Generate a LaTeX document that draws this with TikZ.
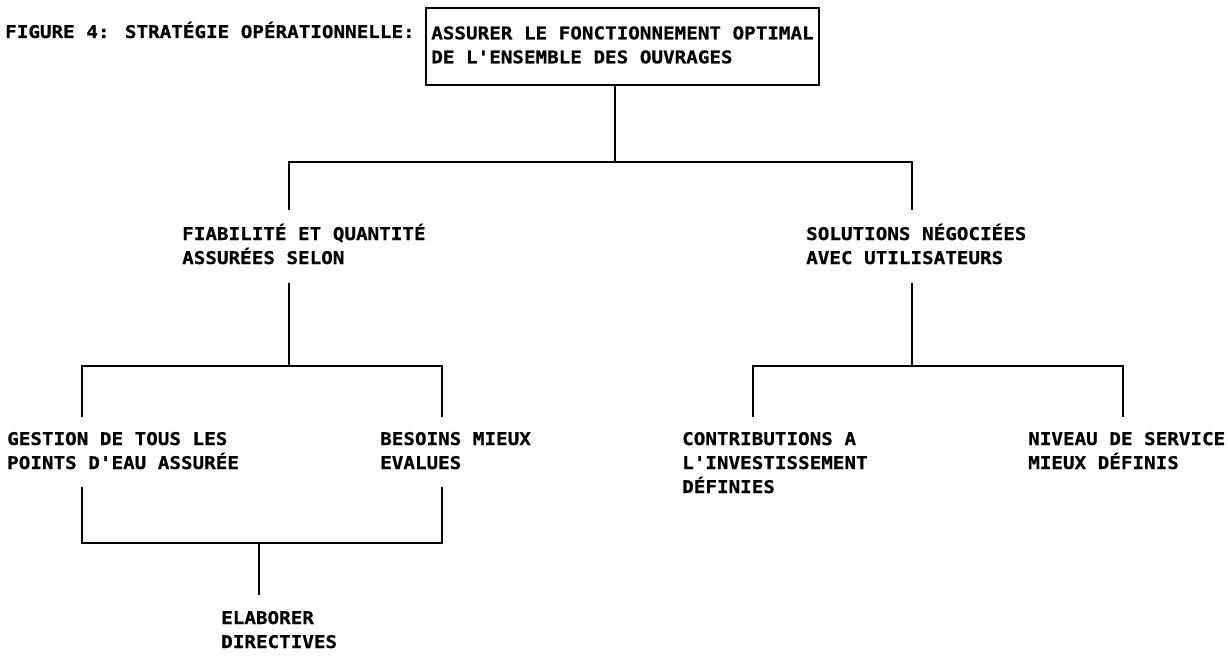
\documentclass[tikz,border=0pt]{standalone}
\usepackage{fontspec}
\newfontfamily\plotfont[FakeStretch=1.1,Ligatures=TeXOff,BoldFeatures={FakeBold=0.6}]{DejaVu Sans Mono}
\newcommand\txtrows[1]{\begin{tabular}[t]{@{}l@{}}#1\end{tabular}}
\begin{document}
\begin{tikzpicture}[x=1pt,y=-1pt,
  plotted/.style={font=\plotfont\bfseries\fontsize{17.5}{24}\selectfont},
  lbl/.style={plotted,inner sep=0pt,anchor=base west},
  headbox/.style={plotted,draw,line width=1.8pt,inner sep=0pt,
    minimum width=393pt,minimum height=77pt},
  link/.style={line width=1.8pt,line join=miter}]
\useasboundingbox (0,0) rectangle (1228,658);

% title and top goal
\node[lbl] (title) at (5,38) {FIGURE 4: STRATÉGIE OPÉRATIONNELLE:};
\node[headbox] (top) at (622.5,46.5)
  {\txtrows{ASSURER LE FONCTIONNEMENT OPTIMAL\\DE L'ENSEMBLE DES OUVRAGES}};

% second level
\node[lbl] (fiab) at (182,240) {\txtrows{FIABILITÉ ET QUANTITÉ\\ASSURÉES SELON}};
\node[lbl] (sol) at (806,240) {\txtrows{SOLUTIONS NÉGOCIÉES\\AVEC UTILISATEURS}};

% third level
\node[lbl] (gest) at (7,445) {\txtrows{GESTION DE TOUS LES\\POINTS D'EAU ASSURÉE}};
\node[lbl] (bes) at (380,445) {\txtrows{BESOINS MIEUX\\EVALUES}};
\node[lbl] (contrib) at (682,445) {\txtrows{CONTRIBUTIONS A\\L'INVESTISSEMENT\\DÉFINIES}};
\node[lbl] (niv) at (1028,445) {\txtrows{NIVEAU DE SERVICE\\MIEUX DÉFINIS}};

% action
\node[lbl] (elab) at (221,624) {\txtrows{ELABORER\\DIRECTIVES}};

% junction points of the tree
\coordinate (j0) at (615,162);
\coordinate (b1L) at (289,162);
\coordinate (b1R) at (912,162);
\coordinate (d1L) at (289,210);
\coordinate (d1R) at (912,210);

\coordinate (u2L) at (289,283);
\coordinate (j2L) at (289,366);
\coordinate (b2La) at (82,366);
\coordinate (b2Lb) at (442,366);
\coordinate (d2La) at (82,417);
\coordinate (d2Lb) at (442,417);

\coordinate (u2R) at (912,283);
\coordinate (j2R) at (912,366);
\coordinate (b2Ra) at (753,366);
\coordinate (b2Rb) at (1123,366);
\coordinate (d2Ra) at (753,417);
\coordinate (d2Rb) at (1123,417);

\coordinate (u3a) at (82,487);
\coordinate (u3b) at (442,487);
\coordinate (b3a) at (82,543);
\coordinate (b3b) at (442,543);
\coordinate (j3) at (259,543);
\coordinate (d3) at (259,595);

% connectors
\draw[link] (top.south -| j0) -- (j0);
\draw[link] (d1L) -- (b1L) -- (b1R) -- (d1R);

\draw[link] (u2L) -- (j2L);
\draw[link] (d2La) -- (b2La) -- (b2Lb) -- (d2Lb);
\draw[link] (u2R) -- (j2R);
\draw[link] (d2Ra) -- (b2Ra) -- (b2Rb) -- (d2Rb);

\draw[link] (u3a) -- (b3a) -- (b3b) -- (u3b);
\draw[link] (j3) -- (d3);
\end{tikzpicture}
\end{document}
